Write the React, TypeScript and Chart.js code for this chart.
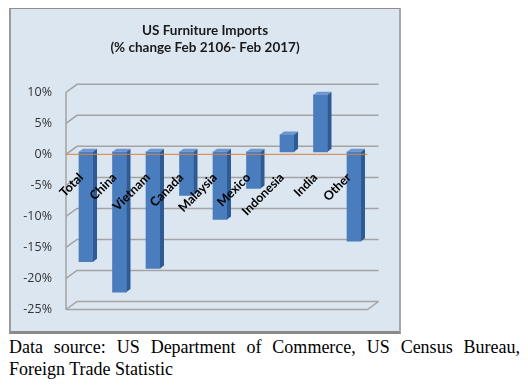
import React, { useEffect, useRef } from "react";
import { Chart, registerables } from "chart.js";

Chart.register(...registerables);

const titleLines = ["US Furniture Imports", "(% change Feb 2106- Feb 2017)"];
const categories = ["Total", "China", "Vietnam", "Canada", "Malaysia", "Mexico", "Indonesia", "India", "Other"];
const changePct = [-17.7, -22.6, -18.8, -7.0, -10.9, -5.9, 2.8, 9.2, -14.4];
const yTickValues = [10, 5, 0, -5, -10, -15, -20, -25];
const yTickLabels = ["10%", "5%", "0%", "-5%", "-10%", "-15%", "-20%", "-25%"];
const captionLines = [
  "Data source: US Department of Commerce, US Census Bureau,",
  "Foreign Trade Statistic",
];

const DEPTH_X = 11;
const DEPTH_Y = 8;
const BAR_DX = 3.25;
const BAR_DY = 2.5;
const SIDE = 4;
const CAP = 3;

const threeD = {
  id: "threeD",
  beforeDatasetsDraw(chart: any) {
    const { ctx, chartArea: a } = chart;
    const y = chart.scales.y;
    ctx.save();
    ctx.strokeStyle = "#a3a3a3";
    ctx.lineWidth = 1.5;
    ctx.beginPath();
    ctx.moveTo(a.left, y.getPixelForValue(y.max));
    ctx.lineTo(a.left, y.getPixelForValue(y.min));
    ctx.stroke();
    yTickValues.forEach((v) => {
      const py = y.getPixelForValue(v);
      ctx.beginPath();
      ctx.moveTo(a.left, py);
      ctx.lineTo(a.left + DEPTH_X, py - DEPTH_Y);
      ctx.lineTo(a.right + DEPTH_X, py - DEPTH_Y);
      ctx.stroke();
    });
    const fy = y.getPixelForValue(y.min);
    ctx.beginPath();
    ctx.moveTo(a.left, fy);
    ctx.lineTo(a.right, fy);
    ctx.lineTo(a.right + DEPTH_X, fy - DEPTH_Y);
    ctx.stroke();
    ctx.restore();
    ctx.save();
    ctx.translate(BAR_DX, -BAR_DY);
  },
  afterDatasetsDraw(chart: any) {
    const ctx = chart.ctx;
    const meta = chart.getDatasetMeta(0);
    meta.data.forEach((el: any) => {
      const { x, y, base, width } = el.getProps(["x", "y", "base", "width"], true);
      const l = x - width / 2;
      const r = x + width / 2;
      const t = Math.min(y, base);
      const b = Math.max(y, base);
      ctx.fillStyle = "#2f5b94";
      ctx.beginPath();
      ctx.moveTo(r, t);
      ctx.lineTo(r + SIDE, t - CAP);
      ctx.lineTo(r + SIDE, b - CAP);
      ctx.lineTo(r, b);
      ctx.closePath();
      ctx.fill();
      ctx.fillStyle = "#6b96cf";
      ctx.beginPath();
      ctx.moveTo(l, t);
      ctx.lineTo(l + SIDE, t - CAP);
      ctx.lineTo(r + SIDE, t - CAP);
      ctx.lineTo(r, t);
      ctx.closePath();
      ctx.fill();
    });
    ctx.restore();
  },
  afterDraw(chart: any) {
    const { ctx, chartArea: a, width } = chart;
    const y = chart.scales.y;
    const zero = y.getPixelForValue(0);
    ctx.save();
    ctx.strokeStyle = "#d9843f";
    ctx.lineWidth = 1;
    ctx.beginPath();
    ctx.moveTo(a.left, zero);
    ctx.lineTo(a.right, zero);
    ctx.stroke();

    ctx.fillStyle = "#000000";
    ctx.font = "bold 12.5px Lato";
    ctx.textAlign = "right";
    ctx.textBaseline = "middle";
    const meta = chart.getDatasetMeta(0);
    meta.data.forEach((el: any, i: number) => {
      const { x } = el.getProps(["x"], true);
      ctx.save();
      ctx.translate(x - 1.75, zero + 21);
      ctx.rotate(-Math.PI / 4);
      ctx.fillText(String(chart.data.labels[i]), 0, 0);
      ctx.restore();
    });

    ctx.fillStyle = "#1a1a1a";
    ctx.font = "bold 13.5px Lato";
    ctx.textAlign = "center";
    ctx.fillText(titleLines[0], width / 2, 22);
    ctx.fillText(titleLines[1], width / 2, 39);
    ctx.restore();
  },
};

export default function App() {
  const ref = useRef<HTMLCanvasElement>(null);

  useEffect(() => {
    if (!ref.current) return;
    const chart = new Chart(ref.current, {
      type: "bar",
      data: {
        labels: categories,
        datasets: [
          {
            data: changePct,
            backgroundColor: "#4a7dbd",
            borderWidth: 0,
            barThickness: 14,
          },
        ],
      },
      options: {
        responsive: false,
        animation: false,
        devicePixelRatio: 1,
        layout: { padding: { left: 0, right: 31.5, top: 83.3, bottom: 17.5 } },
        plugins: { legend: { display: false }, title: { display: false }, tooltip: { enabled: false } },
        scales: {
          x: { display: false, grid: { display: false } },
          y: {
            min: -25,
            max: 10,
            grid: { display: false, drawTicks: false },
            border: { display: false },
            afterFit: (s: any) => {
              s.width = 55;
            },
            ticks: {
              stepSize: 5,
              padding: 14,
              color: "#333333",
              font: { family: "Open Sans", size: 12.5 },
              callback: (v: any) => {
                const i = yTickValues.indexOf(Number(v));
                return i >= 0 ? yTickLabels[i] : "";
              },
            },
          },
        },
      },
      plugins: [threeD],
    });
    return () => chart.destroy();
  }, []);

  return (
    <div>
      <div
        style={{
          marginLeft: 1,
          width: 392,
          height: 326,
          boxSizing: "border-box",
          borderStyle: "solid",
          borderWidth: "1px 2px 3px 2px",
          borderColor: "#8f8f8f #a6a6a6 #8a8a8a #9a9a9a",
          background: "#dce6f1",
        }}
      >
        <canvas ref={ref} width={388} height={322} style={{ display: "block" }} />
      </div>
      <div
        style={{
          marginLeft: 1,
          marginTop: 3,
          width: 511,
          fontFamily: "'Liberation Serif', 'Times New Roman', serif",
          fontSize: 18,
          lineHeight: "21.7px",
          color: "#000",
        }}
      >
        <div style={{ textAlign: "justify", textAlignLast: "justify", whiteSpace: "nowrap" }}>{captionLines[0]}</div>
        <div>{captionLines[1]}</div>
      </div>
    </div>
  );
}
